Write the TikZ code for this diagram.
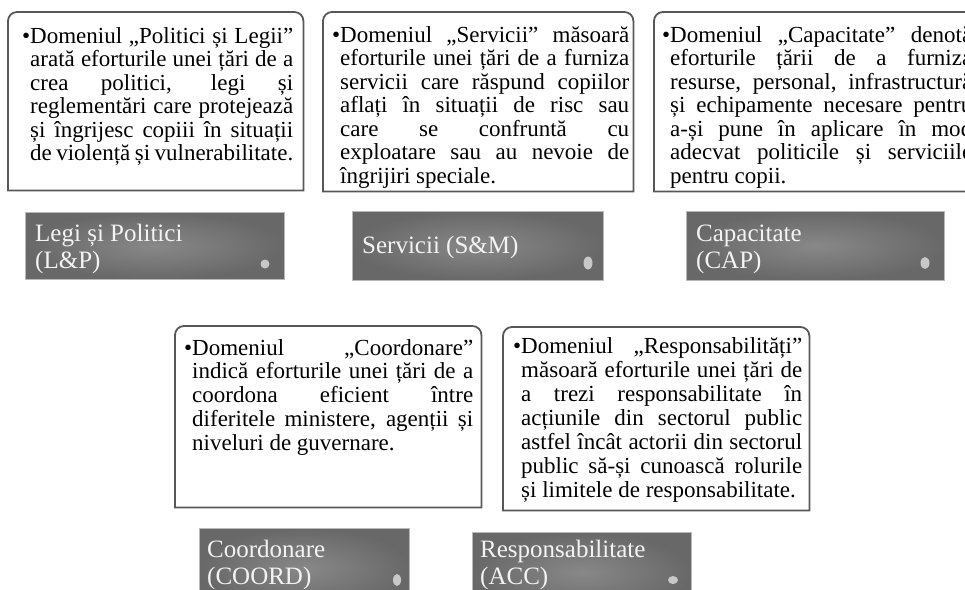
\documentclass[tikz,border=0pt]{standalone}
\usepackage{fontspec}
\setmainfont{Liberation Serif}
\definecolor{framegray}{RGB}{88,88,88}
\definecolor{lblwhite}{RGB}{243,243,243}
\definecolor{dotgray}{RGB}{200,200,200}
\definecolor{shadein}{RGB}{136,136,136}
\definecolor{shadeout}{RGB}{104,104,104}
\definecolor{edgegray}{RGB}{185,185,185}
\newcommand{\jl}[1]{\makebox[\linewidth][s]{#1}}
\newcommand{\bul}{\llap{•}}
\newcommand{\topround}[1]{\draw[boxline] (#1.south west) -- ([yshift=-9pt]#1.north west) arc[start angle=180,end angle=90,radius=9pt] -- ([xshift=-9pt]#1.north east) arc[start angle=90,end angle=0,radius=9pt] -- (#1.south east) -- cycle;}
\tikzset{
  framebox/.style={anchor=north west, inner sep=0pt},
  boxline/.style={draw=framegray, line width=1.8pt},
  desc/.style={inner sep=0pt, anchor=base west, text=black},
  graybox/.style={anchor=north west, inner sep=0pt, draw=edgegray, line width=0.7pt, inner color=shadein, outer color=shadeout},
  lbl/.style={inner sep=0pt, anchor=base west, text=lblwhite},
  dotfill/.style={fill=dotgray}
}
\newcommand{\desctext}{\fontsize{23}{23.5}\selectfont}
\newcommand{\lbltext}{\fontsize{25}{27}\selectfont}
\begin{document}
\begin{tikzpicture}[x=1pt,y=-1pt]
\useasboundingbox (0,0) rectangle (965,589);
\clip (0,0) rectangle (965,589);
\fill[white] (0,0) rectangle (965,589);

% ---- top description boxes ----
\node[framebox, minimum width=295, minimum height=178] (f1) at (8,12) {};
\node[framebox, minimum width=310, minimum height=179] (f2) at (323,12) {};
\node[framebox, minimum width=330, minimum height=179] (f3) at (654,12) {};
\topround{f1}
\topround{f2}
\topround{f3}

\node[desc] (t1) at (30,43) {\parbox[t]{263pt}{\desctext
\jl{\bul Domeniul „Politici și Legii”}\\
\jl{arată eforturile unei țări de a}\\
\jl{crea politici, legi și}\\
\jl{reglementări care protejează}\\
\jl{și îngrijesc copiii în situații}\\
de violență și vulnerabilitate.}};

\node[desc] (t2) at (340,42) {\parbox[t]{289pt}{\desctext
\jl{\bul Domeniul „Servicii” măsoară}\\
\jl{eforturile unei țări de a furniza}\\
\jl{servicii care răspund copiilor}\\
\jl{aflați în situații de risc sau}\\
\jl{care se confruntă cu}\\
\jl{exploatare sau au nevoie de}\\
îngrijiri speciale.}};

\node[desc] (t3) at (670,42) {\parbox[t]{302pt}{\desctext
\jl{\bul Domeniul „Capacitate” denotă}\\
\jl{eforturile țării de a furniza}\\
\jl{resurse, personal, infrastructură}\\
\jl{și echipamente necesare pentru}\\
\jl{a-și pune în aplicare în mod}\\
\jl{adecvat politicile și serviciile}\\
pentru copii.}};

% ---- top label boxes ----
\node[graybox, minimum width=259, minimum height=67] (g1) at (25,212) {};
\node[graybox, minimum width=251, minimum height=69] (g2) at (352,211) {};
\node[graybox, minimum width=258, minimum height=69] (g3) at (686,211) {};
\node[lbl] (l1) at (35,241) {\parbox[t]{220pt}{\lbltext Legi și Politici\\(L\&P)}};
\node[lbl] (l2) at (362,253) {\lbltext Servicii (S\&M)};
\node[lbl] (l3) at (696,241) {\parbox[t]{220pt}{\lbltext Capacitate\\(CAP)}};
\fill[dotfill] (265,264) circle[radius=4.5pt];
\fill[dotfill] (588,263) ellipse[x radius=4.5pt, y radius=6.5pt];
\fill[dotfill] (925,263) ellipse[x radius=4.5pt, y radius=6pt];

% ---- bottom description boxes ----
\node[framebox, minimum width=306, minimum height=181] (f4) at (175,326) {};
\node[framebox, minimum width=306, minimum height=183] (f5) at (503,327) {};
\topround{f4}
\topround{f5}

\node[desc] (t4) at (192,355) {\parbox[t]{281pt}{\fontsize{23}{23.8}\selectfont
\jl{\bul Domeniul „Coordonare”}\\
\jl{indică eforturile unei țări de a}\\
\jl{coordona eficient între}\\
\jl{diferitele ministere, agenții și}\\
niveluri de guvernare.}};

\node[desc] (t5) at (521,353) {\parbox[t]{281pt}{\fontsize{23}{24.1}\selectfont
\jl{\bul Domeniul „Responsabilități”}\\
\jl{măsoară eforturile unei țări de}\\
\jl{a trezi responsabilitate în}\\
\jl{acțiunile din sectorul public}\\
\jl{astfel încât actorii din sectorul}\\
\jl{public să-și cunoască rolurile}\\
și limitele de responsabilitate.}};

% ---- bottom label boxes ----
\node[graybox, minimum width=210, minimum height=80] (g4) at (199,528) {};
\node[graybox, minimum width=219, minimum height=80] (g5) at (472,532) {};
\node[lbl] (l4) at (207,557) {\parbox[t]{190pt}{\lbltext Coordonare\\(COORD)}};
\node[lbl] (l5) at (480,557) {\parbox[t]{200pt}{\lbltext Responsabilitate\\(ACC)}};
\fill[dotfill] (397,580) ellipse[x radius=4pt, y radius=6pt];
\fill[dotfill] (673,580) ellipse[x radius=5pt, y radius=4pt];
\end{tikzpicture}
\end{document}
